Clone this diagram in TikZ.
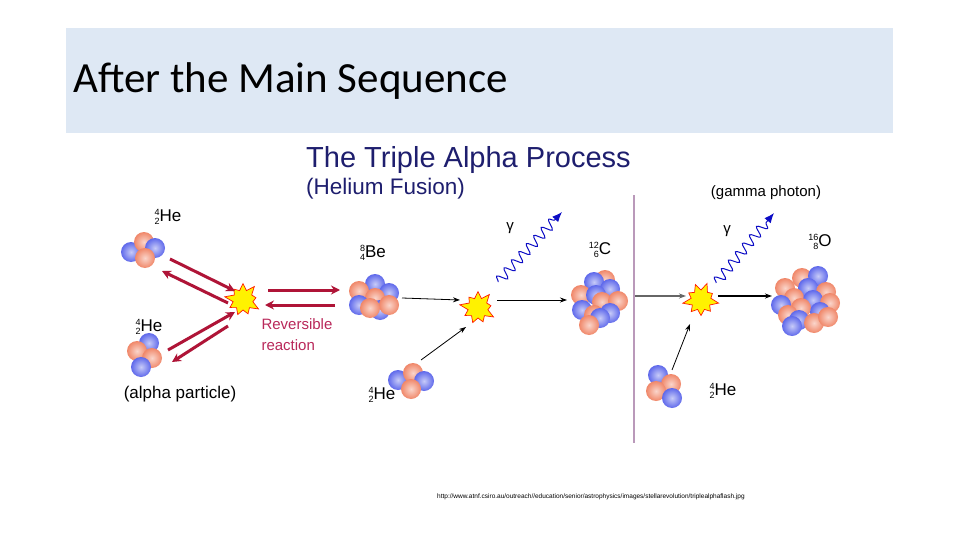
\documentclass[tikz,border=0pt]{standalone}
\usepackage{fontspec}
\setmainfont{Liberation Sans}
\newfontfamily\titlefont{Carlito}
\usetikzlibrary{shapes.symbols,decorations.pathmorphing,arrows.meta}
\definecolor{nOr}{RGB}{240,135,105}
\definecolor{nBl}{RGB}{95,105,235}
\definecolor{hdr}{RGB}{222,232,244}
\definecolor{navy}{RGB}{30,30,110}
\definecolor{crim}{RGB}{175,20,55}
\definecolor{pink}{RGB}{185,40,90}
\newcommand\iso[3]{\raisebox{-3pt}{\shortstack[r]{\fontsize{9}{9}\selectfont #1\\\fontsize{9}{9}\selectfont #2}}#3}
\tikzset{
  lbl/.style={font=\fontsize{17}{19}\selectfont, inner sep=0pt},
  star/.style={starburst, starburst points=9, starburst point height=9pt, fill=yellow, draw=red!80!orange, line width=0.7pt, minimum size=38pt, inner sep=0pt},
  rarr/.style={crim, line width=3pt, -{Stealth[length=9pt,width=9pt]}},
  karr/.style={black, line width=0.8pt, -{Stealth[length=7pt,width=5pt]}},
  wave/.style={blue!60!navy, line width=1pt, decorate, decoration={snake, amplitude=5pt, segment length=11pt, post length=9pt}, -{Latex[length=10pt,width=8pt]}},
  pics/nuc/.style={code={\foreach \c/\x/\y in {#1}{\shade[inner color=\c!35!white, outer color=\c] (\x,\y) circle (10);}}}
}
\begin{document}
\begin{tikzpicture}[x=1pt,y=-1pt]
\useasboundingbox (0,0) rectangle (960,540);
\fill[white] (0,0) rectangle (960,540);
\fill[hdr] (66,28) rectangle (893,133);
\node[anchor=west, inner sep=0pt, font=\titlefont\fontsize{43}{48}\selectfont] (title) at (73,81) {After the Main Sequence};
\node[anchor=west, inner sep=0pt, text=navy, font=\fontsize{29}{32}\selectfont] (tap) at (306,160) {The Triple Alpha Process};
\node[anchor=west, inner sep=0pt, text=navy, font=\fontsize{22.5}{25}\selectfont] (hf) at (306,189) {(Helium Fusion)};
% nuclei
\pic at (146,250) {nuc={nBl/-15/2, nOr/-2/-8, nBl/9/-2, nOr/-1/8}};
\pic at (145,355) {nuc={nBl/4/-12, nOr/-8/-4, nOr/7/3, nBl/-4/12}};
\pic at (372,298) {nuc={nBl/3/-14, nOr/-13/-7, nBl/17/-5, nOr/3/0, nBl/-13/7, nBl/8/12, nOr/17/7, nOr/-2/10}};
\pic at (412,382) {nuc={nBl/-14/-2, nOr/1/-9, nBl/12/-1, nOr/-1/7}};
\pic at (597,302) {nuc={nOr/8/-22, nBl/-3/-20, nBl/13/-13, nOr/-16/-7, nBl/-1/-7, nOr/5/0, nBl/-15/8, nOr/21/-1, nBl/13/11, nOr/-3/13, nBl/3/16, nOr/-8/23}};
\pic at (805,300) {nuc={nOr/-3/-22, nBl/13/-24, nOr/-20/-12, nBl/3/-12, nOr/21/-8, nOr/-11/-2, nBl/8/0, nOr/25/3, nBl/-24/5, nOr/-4/8, nBl/15/12, nOr/-17/15, nBl/-6/20, nOr/9/23, nBl/-13/26, nOr/23/17}};
\pic at (664,388) {nuc={nBl/-6/-13, nOr/7/-4, nOr/-8/3, nBl/8/10}};
% stars
\node[star] (s1) at (243,300) {};
\node[star] (s2) at (478,308) {};
\node[star, rotate=20] (s3) at (701,300) {};
% labels
\node[lbl] (he1) at (168,217) {\iso{4}{2}{He}};
\node[lbl] (he2) at (149,327) {\iso{4}{2}{He}};
\node[lbl] (ap) at (180,394) {(alpha particle)};
\node[lbl] (be) at (373,253) {\iso{8}{4}{Be}};
\node[align=left, anchor=west, text=pink, font=\fontsize{15}{21}\selectfont] (rev) at (258,335) {Reversible\\reaction};
\node[lbl] (he3) at (382,395) {\iso{4}{2}{He}};
\node[lbl] (c) at (600,250) {\iso{12}{6}{C}};
\node[lbl] (o) at (820,242) {\iso{16}{8}{O}};
\node[lbl] (he4) at (723,391) {\iso{4}{2}{He}};
\node[lbl, font=\fontsize{15}{17}\selectfont] (gp) at (766,193) {(gamma photon)};
\node[lbl, font=\fontsize{15}{17}\selectfont] (g1) at (510,228) {γ};
\node[lbl, font=\fontsize{15}{17}\selectfont] (g2) at (727,231) {γ};
% photons
\coordinate (w1a) at (498,282); \coordinate (w1b) at (562,212);
\coordinate (w2a) at (716,283); \coordinate (w2b) at (774,213);
\draw[wave] (w1a) -- (w1b);
\draw[wave] (w2a) -- (w2b);
% red arrows
\coordinate (r1a) at (170,259); \coordinate (r1b) at (235,291);
\coordinate (r2a) at (228,303); \coordinate (r2b) at (162,271);
\coordinate (r3a) at (268,290); \coordinate (r3b) at (340,290);
\coordinate (r4a) at (335,305); \coordinate (r4b) at (265,305);
\coordinate (r5a) at (168,350); \coordinate (r5b) at (235,312);
\coordinate (r6a) at (228,326); \coordinate (r6b) at (172,362);
\draw[rarr] (r1a) -- (r1b);
\draw[rarr] (r2a) -- (r2b);
\draw[rarr] (r3a) -- (r3b);
\draw[rarr] (r4a) -- (r4b);
\draw[rarr] (r5a) -- (r5b);
\draw[rarr] (r6a) -- (r6b);
% black arrows
\coordinate (k1) at (402,298); \coordinate (k2) at (460,300);
\coordinate (k3) at (497,300); \coordinate (k4) at (567,300);
\coordinate (k5) at (421,360); \coordinate (k6) at (466,327);
\coordinate (k7) at (635,296); \coordinate (k8) at (686,296);
\coordinate (k9) at (718,296); \coordinate (k10) at (772,296);
\coordinate (k11) at (672,370); \coordinate (k12) at (690,324);
\draw[karr] (k1) -- (k2);
\draw[karr] (k3) -- (k4);
\draw[karr] (k5) -- (k6);
\draw[karr, line width=1.6pt, black!60] (k7) -- (k8);
\draw[karr, line width=1.2pt] (k9) -- (k10);
\draw[karr] (k11) -- (k12);
% divider
\coordinate (v1) at (634,195); \coordinate (v2) at (634,443);
\draw[line width=1.5pt, black!35!violet!40] (v1) -- (v2);
\node[anchor=west, inner sep=0pt, font=\fontsize{6.5}{7}\selectfont] (url) at (437,497) {http://www.atnf.csiro.au/outreach//education/senior/astrophysics/images/stellarevolution/triplealphaflash.jpg};
\end{tikzpicture}
\end{document}
